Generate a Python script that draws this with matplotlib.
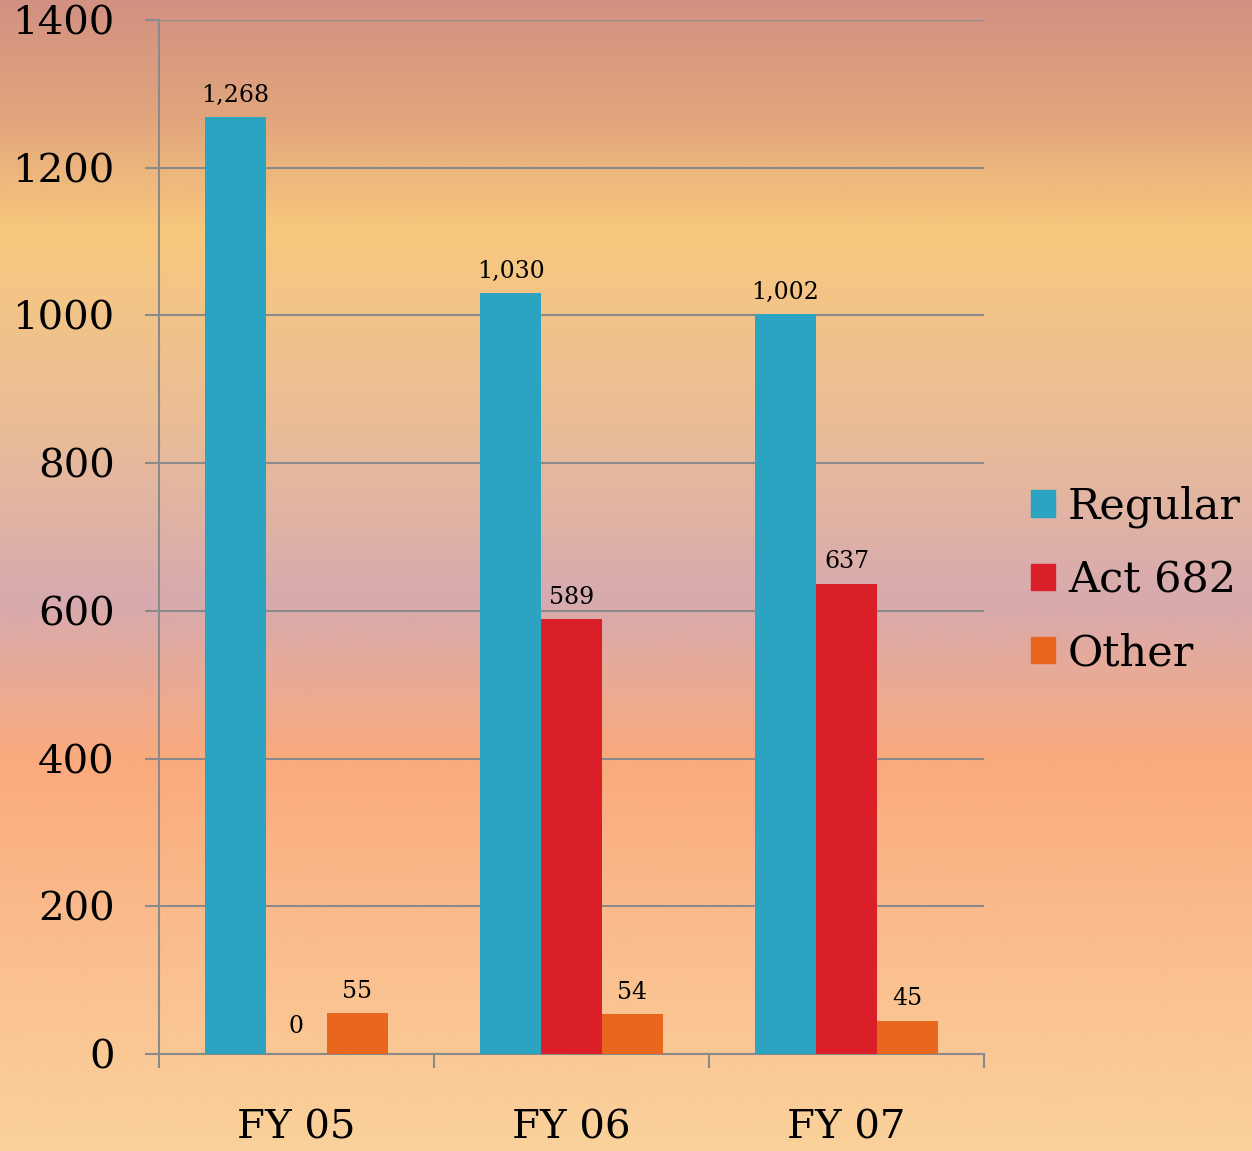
import numpy as np
import matplotlib.pyplot as plt
from matplotlib.patches import Patch

years = ["FY 05", "FY 06", "FY 07"]
series = ["Regular", "Act 682", "Other"]
regular = [1268, 1030, 1002]
act682 = [0, 589, 637]
other = [55, 54, 45]
colors = ["#2CA3C1", "#DA1F28", "#E9661F"]
yticks = [0, 200, 400, 600, 800, 1000, 1200, 1400]

plt.rcParams['font.family'] = ['DejaVu Serif']

fig = plt.figure(figsize=(12.52, 11.51), dpi=100)

# background gradient
bg = fig.add_axes([0, 0, 1, 1], zorder=-10)
stops = [0.0, 0.1, 0.2, 0.36, 0.52, 0.66, 0.8, 1.0]
cols = np.array([(210, 145, 130), (225, 165, 125), (248, 200, 125), (235, 190, 150),
                 (215, 170, 175), (250, 170, 125), (250, 187, 140), (250, 210, 155)]) / 255
yy = np.linspace(0, 1, 400)
grad = np.stack([np.interp(yy, stops, cols[:, c]) for c in range(3)], axis=-1)[:, None, :]
bg.imshow(grad, aspect='auto', extent=[0, 1, 1, 0])
bg.axis('off')

ax = fig.add_axes([159 / 1252, 1 - 1054 / 1151, 825 / 1252, 1034 / 1151])
ax.patch.set_alpha(0)

x = np.arange(len(years))
w = 61 / 275
for i, (vals, c) in enumerate(zip([regular, act682, other], colors)):
    pos = x + (i - 1) * w
    ax.bar(pos, vals, width=w, color=c, zorder=3)
    for p, v in zip(pos, vals):
        ax.text(p, v + (14 if v else 22), f"{v:,}", ha='center', va='bottom', fontsize=17, zorder=4)

ax.set_xlim(-0.5, 2.5)
ax.set_ylim(0, 1400)
ax.set_yticks(yticks)
ax.set_yticklabels([str(t) for t in yticks], fontsize=29)
ax.set_xticks([-0.5, 0.5, 1.5, 2.5])
ax.set_xticklabels([])
ax.set_xticks(x, minor=True)
ax.set_xticklabels(years, minor=True, fontsize=29)
ax.tick_params(axis='x', which='minor', length=0, pad=40)
ax.tick_params(axis='x', which='major', length=10, width=1.5, color='#8a8a8a')
ax.tick_params(axis='y', length=10, width=1.5, color='#8a8a8a', pad=22)
ax.yaxis.grid(True, color='#8a8a8a', linewidth=1.5, zorder=0)
for s in ['top', 'right']:
    ax.spines[s].set_visible(False)
for s in ['left', 'bottom']:
    ax.spines[s].set_color('#8a8a8a')
    ax.spines[s].set_linewidth(1.5)

handles = [Patch(color=c) for c in colors]
fig.legend(handles, series, loc='center left', bbox_to_anchor=(1031 / 1252, 1 - 580 / 1151),
           frameon=False, fontsize=31, handlelength=0.56, handleheight=0.56,
           handletextpad=0.3, labelspacing=0.72, borderpad=0, borderaxespad=0)

fig.savefig("out.png", dpi=100)
